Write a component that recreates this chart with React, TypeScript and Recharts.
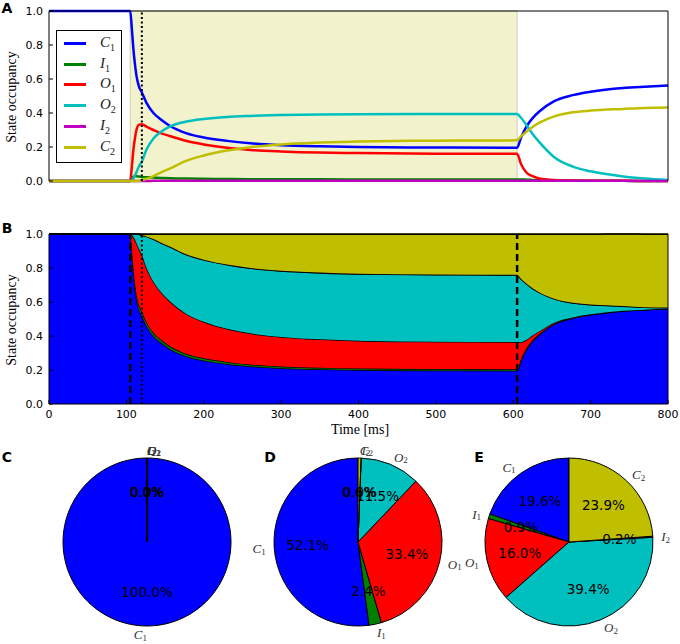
import React from 'react';
import {
  LineChart, Line, AreaChart, Area, XAxis, YAxis, ReferenceArea, ReferenceLine,
  Legend, PieChart, Pie, Cell,
} from 'recharts';

// time samples [ms] and state occupancies
const TIME = [0, 50, 100, 105, 107, 109, 111, 113, 116, 120, 126, 135, 145, 156, 178, 200, 230, 260, 300, 350, 400, 500, 605, 610, 617, 625, 634, 653, 677, 700, 742, 770, 800];
const C1 = [1, 1, 1, 1, 0.9, 0.78, 0.69, 0.62, 0.56, 0.521, 0.46, 0.4, 0.36, 0.325, 0.28, 0.256, 0.236, 0.222, 0.211, 0.204, 0.2, 0.197, 0.196, 0.255, 0.32, 0.37, 0.41, 0.47, 0.505, 0.525, 0.547, 0.555, 0.562];
const I1 = [0, 0, 0, 0, 0.015, 0.025, 0.028, 0.028, 0.026, 0.024, 0.022, 0.02, 0.018, 0.016, 0.014, 0.013, 0.012, 0.011, 0.01, 0.01, 0.009, 0.009, 0.009, 0.009, 0.008, 0.006, 0.004, 0.003, 0.002, 0.001, 0.001, 0, 0];
const O1 = [0, 0, 0, 0, 0.08, 0.18, 0.25, 0.3, 0.33, 0.334, 0.32, 0.3, 0.28, 0.265, 0.235, 0.215, 0.195, 0.183, 0.174, 0.167, 0.164, 0.161, 0.16, 0.1, 0.05, 0.028, 0.015, 0.006, 0.003, 0.002, 0.001, 0, 0];
const O2 = [0, 0, 0, 0, 0.005, 0.015, 0.032, 0.052, 0.084, 0.115, 0.185, 0.25, 0.29, 0.32, 0.35, 0.365, 0.377, 0.383, 0.388, 0.391, 0.392, 0.394, 0.394, 0.372, 0.33, 0.276, 0.227, 0.14, 0.085, 0.057, 0.027, 0.015, 0.006];
const I2 = [0, 0, 0, 0, 0, 0, 0, 0, 0, 0, 0, 0.001, 0.001, 0.001, 0.001, 0.001, 0.001, 0.002, 0.002, 0.002, 0.002, 0.002, 0.002, 0.002, 0.002, 0.002, 0.001, 0.001, 0.001, 0.001, 0.001, 0, 0];
const C2 = [0, 0, 0, 0, 0, 0, 0, 0, 0, 0.006, 0.013, 0.029, 0.051, 0.073, 0.12, 0.15, 0.179, 0.199, 0.215, 0.226, 0.233, 0.237, 0.239, 0.262, 0.29, 0.318, 0.343, 0.38, 0.404, 0.414, 0.424, 0.43, 0.432];

const STATES = ['C1', 'I1', 'O1', 'O2', 'I2', 'C2'];
const COLORS = ['#0000ff', '#008000', '#ff0000', '#00bfbf', '#bf00bf', '#bfbf00'];

// pie values (%): before pulse, at 120 ms, at end of pulse
const PIE_C = [100, 0, 0, 0, 0, 0];
const PIE_D = [52.1, 2.4, 33.4, 11.5, 0.0, 0.6];
const PIE_E = [19.6, 0.9, 16.0, 39.4, 0.2, 23.9];

const T_TICKS = [0, 100, 200, 300, 400, 500, 600, 700, 800];
const Y_TICKS = [0, 0.2, 0.4, 0.6, 0.8, 1.0];

const data = TIME.map((t, i) => ({
  t, C1: C1[i], I1: I1[i], O1: O1[i], O2: O2[i], I2: I2[i], C2: C2[i],
}));

const pieData = (vals: number[]) => STATES.map((name, i) => ({ name, value: vals[i] }));

const SANS = 'DejaVu Sans, sans-serif';
const SERIF = 'Liberation Serif, serif';
const RAD = Math.PI / 180;

const mathName = (name: string, fs: number) => [
  <tspan key="l" fontStyle="italic">{name[0]}</tspan>,
  <tspan key="s" fontSize={fs * 0.7} dy={fs * 0.28}>{name.slice(1)}</tspan>,
];

const renderPieLabel = (props: any) => {
  const { cx, cy, midAngle, outerRadius, percent, value, name } = props;
  const c = Math.cos(-midAngle * RAD);
  const s = Math.sin(-midAngle * RAD);
  return (
    <g>
      {value === 0 && (
        <line x1={cx} y1={cy} x2={cx + outerRadius * c} y2={cy + outerRadius * s} stroke="#000" strokeWidth={1} />
      )}
      <text x={cx + 0.6 * outerRadius * c} y={cy + 0.6 * outerRadius * s} textAnchor="middle"
        dominantBaseline="central" fontFamily={SANS} fontSize={13.5} fill="#000">
        {(percent * 100).toFixed(1)}%
      </text>
      <text x={cx + 1.1 * outerRadius * c} y={cy + 1.1 * outerRadius * s} textAnchor={c > 0 ? 'start' : 'end'}
        dominantBaseline="central" fontFamily={SERIF} fontSize={13} fill="#333">
        {mathName(name, 13)}
      </text>
    </g>
  );
};

// legend keeps the state order of the model, not alphabetical
const renderLegend = () => (
  <div style={{ border: '1px solid #000', background: '#fff', padding: '2px 0 4px 0', width: 64 }}>
    {STATES.map((s, i) => (
      <div key={s} style={{ height: 20.8, display: 'flex', alignItems: 'center' }}>
        <span style={{ display: 'inline-block', width: 22, height: 3, background: COLORS[i], marginLeft: 7 }} />
        <span style={{ marginLeft: 14, fontFamily: SERIF, fontSize: 15, color: '#222' }}>
          <i>{s[0]}</i>
          <sub style={{ fontSize: 10 }}>{s.slice(1)}</sub>
        </span>
      </div>
    ))}
  </div>
);

const tickFont = { fontSize: 11, fill: '#000', fontFamily: SANS };
const axisLine = { stroke: '#000', strokeWidth: 1 };

const abs = (x: number, y: number, extra: React.CSSProperties = {}): React.CSSProperties => ({
  position: 'absolute', left: x, top: y, transform: 'translate(-50%, -50%)', whiteSpace: 'nowrap', ...extra,
});

const frameAxes = (withXLabels: boolean) => [
  <XAxis key="xb" dataKey="t" type="number" domain={[0, 800]} ticks={T_TICKS}
    mirror={!withXLabels} tick={withXLabels ? tickFont : false} tickSize={withXLabels ? -4 : 4} tickMargin={10}
    height={withXLabels ? 26 : 0} tickLine={axisLine} axisLine={axisLine} />,
  <XAxis key="xt" xAxisId="top" orientation="top" type="number" domain={[0, 800]} ticks={T_TICKS}
    mirror tick={false} tickSize={4} tickLine={axisLine} axisLine={axisLine} />,
  <YAxis key="yl" type="number" domain={[0, 1]} ticks={Y_TICKS} width={49} tick={tickFont}
    tickFormatter={(v: number) => v.toFixed(1)} tickSize={-4} tickMargin={10}
    tickLine={axisLine} axisLine={axisLine} />,
  <YAxis key="yr" yAxisId="right" orientation="right" type="number" domain={[0, 1]} ticks={Y_TICKS}
    mirror tick={false} tickSize={4} tickLine={axisLine} axisLine={axisLine} />,
];

export default function App() {
  return (
    <div style={{ position: 'relative', width: 680, height: 644, background: '#fff', fontFamily: SANS }}>
      <style>{'body{margin:0}'}</style>

      {/* Panel A */}
      <div style={{ position: 'absolute', left: 0, top: 0 }}>
        <LineChart width={680} height={200} data={data} margin={{ top: 11, right: 12, bottom: 19, left: 0 }}>
          <ReferenceArea x1={105} x2={605} fill="#f2f2cc" fillOpacity={1} stroke="#cfcfb8" strokeWidth={1} />
          {frameAxes(false)}
          {STATES.map((s, i) => (
            <Line key={s} dataKey={s} name={s} type="monotone" stroke={COLORS[i]} strokeWidth={2.5}
              dot={false} isAnimationActive={false} />
          ))}
          <ReferenceLine x={120} stroke="#000" strokeWidth={2} strokeDasharray="2 2.5" />
          <Legend layout="vertical" align="center" verticalAlign="middle" content={renderLegend}
            wrapperStyle={{ left: 56, top: 30, width: 66, height: 131 }} />
        </LineChart>
      </div>

      {/* Panel B */}
      <div style={{ position: 'absolute', left: 0, top: 220 }}>
        <AreaChart width={680} height={210} data={data} margin={{ top: 14, right: 12, bottom: 0, left: 0 }}>
          {frameAxes(true)}
          {STATES.map((s, i) => (
            <Area key={s} dataKey={s} stackId="occ" type="monotone" fill={COLORS[i]} fillOpacity={1}
              stroke="#000" strokeWidth={1.5} isAnimationActive={false} />
          ))}
          <ReferenceLine x={105} stroke="#000" strokeWidth={2.5} strokeDasharray="7 4" />
          <ReferenceLine x={605} stroke="#000" strokeWidth={2.5} strokeDasharray="7 4" />
          <ReferenceLine x={120} stroke="#000" strokeWidth={2} strokeDasharray="2 2.5" />
        </AreaChart>
      </div>

      {/* Panels C-E */}
      <div style={{ position: 'absolute', left: 0, top: 440 }}>
        <PieChart width={680} height={204} margin={{ top: 0, right: 0, bottom: 0, left: 0 }}>
          {[PIE_C, PIE_D, PIE_E].map((vals, k) => (
            <Pie key={k} data={pieData(vals)} dataKey="value" nameKey="name" cx={[147, 358, 569][k]} cy={102}
              outerRadius={84} startAngle={90} endAngle={450} stroke="#000" strokeWidth={1}
              label={renderPieLabel} labelLine={false} isAnimationActive={false}>
              {STATES.map((s, i) => <Cell key={s} fill={COLORS[i]} />)}
            </Pie>
          ))}
        </PieChart>
      </div>

      {/* axis titles and panel letters */}
      <div style={abs(12, 97, { transform: 'translate(-50%, -50%) rotate(-90deg)', fontFamily: SERIF, fontSize: 14 })}>State occupancy</div>
      <div style={abs(12, 320, { transform: 'translate(-50%, -50%) rotate(-90deg)', fontFamily: SERIF, fontSize: 14 })}>State occupancy</div>
      <div style={abs(360, 430, { fontFamily: SERIF, fontSize: 14 })}>Time [ms]</div>
      <div style={abs(7, 8, { fontWeight: 'bold', fontSize: 14 })}>A</div>
      <div style={abs(7, 228, { fontWeight: 'bold', fontSize: 14 })}>B</div>
      <div style={abs(7, 457, { fontWeight: 'bold', fontSize: 14 })}>C</div>
      <div style={abs(270, 457, { fontWeight: 'bold', fontSize: 14 })}>D</div>
      <div style={abs(479, 457, { fontWeight: 'bold', fontSize: 14 })}>E</div>
    </div>
  );
}
